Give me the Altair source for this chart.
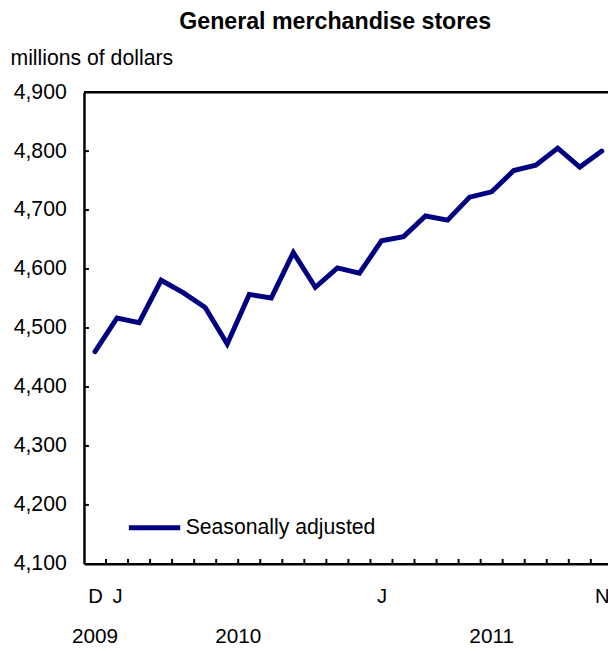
import altair as alt
import pandas as pd

# ---- data ----
periods = ["2009-12", "2010-01", "2010-02", "2010-03", "2010-04", "2010-05", "2010-06",
           "2010-07", "2010-08", "2010-09", "2010-10", "2010-11", "2010-12",
           "2011-01", "2011-02", "2011-03", "2011-04", "2011-05", "2011-06",
           "2011-07", "2011-08", "2011-09", "2011-10", "2011-11"]
values = [4460, 4517, 4509, 4581, 4560, 4535, 4473, 4557, 4551, 4628, 4569, 4602, 4593,
          4648, 4655, 4690, 4683, 4722, 4731, 4767, 4776, 4805, 4773, 4800]
month_letters = ["D", "J", "F", "M", "A", "M", "J", "J", "A", "S", "O", "N", "D",
                 "J", "F", "M", "A", "M", "J", "J", "A", "S", "O", "N"]
labelled_months = [0, 1, 13, 23]
years = ["2009", "2010", "2011"]
year_centres = [0, 6.5, 18]
series_name = "Seasonally adjusted"
y_ticks = [4100, 4200, 4300, 4400, 4500, 4600, 4700, 4800, 4900]

FONT = "Liberation Sans"
NAVY = "#000080"
W, H = 531, 478

df = pd.DataFrame({"idx": list(range(len(values))), "value": values,
                   "period": periods, "series": series_name})
bounds_df = pd.DataFrame({"idx": [i + 0.5 for i in range(len(values) - 1)]})
ytick_df = pd.DataFrame({"value": y_ticks[1:-1]})
top_df = pd.DataFrame({"value": [y_ticks[-1]]})
years_df = pd.DataFrame({"year": years, "idx": year_centres})

xscale = alt.Scale(domain=[-0.5, 23.28], nice=False, zero=False)
yscale = alt.Scale(domain=[y_ticks[0], y_ticks[-1]], nice=False, zero=False)

x_label_expr = "[" + ",".join("'%s'" % m for m in month_letters) + "][datum.value]"
y_label_expr = ("slice(toString(datum.value), 0, -3) + ',' + "
                "slice(toString(datum.value), -3)")

xaxis = alt.Axis(values=labelled_months, labelExpr=x_label_expr, ticks=False, grid=False,
                 domainColor="black", domainWidth=2.5, labelFont=FONT, labelFontSize=20.5,
                 labelColor="black", labelPadding=23, labelFlush=False, labelOverlap=False)
yaxis = alt.Axis(values=y_ticks, labelExpr=y_label_expr, ticks=False, grid=False,
                 domainColor="black", domainWidth=2.5, labelFont=FONT, labelFontSize=21.5,
                 labelColor="black", labelPadding=18,
                 title="millions of dollars", titleAngle=0, titleX=-75, titleY=-34,
                 titleAlign="left", titleBaseline="middle", titleFont=FONT,
                 titleFontSize=21.5, titleFontWeight="normal", titleColor="black")

X = alt.X("idx:Q", scale=xscale, axis=xaxis, title=None)
Y = alt.Y("value:Q", scale=yscale, axis=yaxis, title="millions of dollars")

line = alt.Chart(df).mark_line(strokeWidth=5, strokeCap="round", strokeJoin="miter").encode(
    x=X, y=Y,
    color=alt.Color("series:N", scale=alt.Scale(range=[NAVY]),
                    legend=alt.Legend(title=None, orient="none", legendX=43, legendY=413,
                                      symbolType="stroke", symbolSize=2704, symbolStrokeWidth=5,
                                      labelFont=FONT, labelFontSize=21.5, labelColor="black",
                                      labelOffset=3, labelLimit=0, padding=0)),
)

xticks = alt.Chart(bounds_df).mark_rule(color="black", strokeWidth=2).encode(
    x=X, y=alt.value(H), y2=alt.value(H - 5))

yticks = alt.Chart(ytick_df).mark_rule(color="black", strokeWidth=2).encode(
    y=Y, x=alt.value(0), x2=alt.value(5))

top = alt.Chart(top_df).mark_rule(color="black", strokeWidth=2.5).encode(y=Y)

year_text = alt.Chart(years_df).mark_text(font=FONT, fontSize=21, color="black",
                                          baseline="middle", align="center").encode(
    x=X, y=alt.value(H + 74), text="year:N")

chart = alt.layer(line, top, xticks, yticks, year_text).properties(
    width=W, height=H,
    title=alt.TitleParams("General merchandise stores", font=FONT, fontSize=23.5,
                          fontWeight="bold", color="black", anchor="middle", dx=-11, offset=14),
    padding={"left": 77, "top": 81, "right": 0, "bottom": 82},
    autosize=alt.AutoSizeParams(type="none"),
).configure_view(stroke=None)

chart.save("out.html", embed_options={"renderer": "svg", "actions": False})
